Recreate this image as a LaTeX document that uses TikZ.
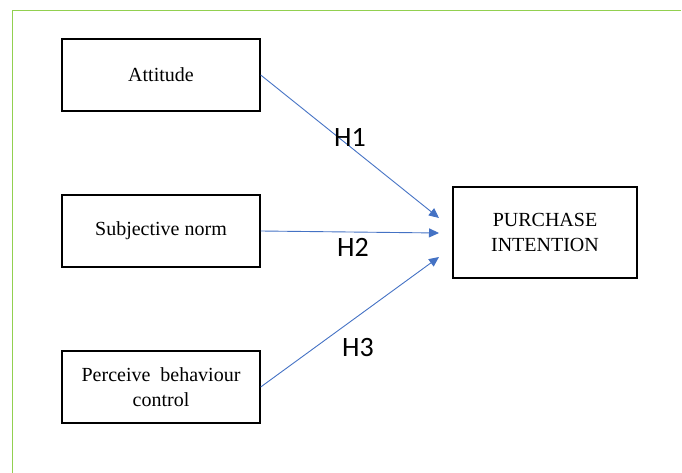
\documentclass[tikz,border=0pt]{standalone}
\usepackage{fontspec}
\setmainfont{Liberation Serif}
\newfontfamily\labelfont{Carlito}
\usetikzlibrary{arrows.meta}
\definecolor{frameGreen}{RGB}{146,208,80}
\definecolor{arrowBlue}{RGB}{68,114,196}
\tikzset{
  varbox/.style={draw=black, line width=1.4pt, rectangle, inner sep=0pt, minimum width=198pt, minimum height=72pt, align=center, font=\fontsize{20}{25}\selectfont},
  path arrow/.style={draw=arrowBlue, line width=0.9pt, -{Triangle[length=10pt,width=9pt]}},
  hlabel/.style={font=\labelfont\fontsize{28}{32}\selectfont, inner sep=0pt}
}
\begin{document}
\begin{tikzpicture}[x=1pt,y=-1pt]
\useasboundingbox (0,0) rectangle (682,473);
\coordinate (fA) at (12.5,473);
\coordinate (fB) at (12.5,10.5);
\coordinate (fC) at (681,10.5);
\draw[frameGreen, line width=1.5pt] (fA) -- (fB) -- (fC);
\node[varbox] (att) at (161,75) {Attitude};
\node[varbox] (sub) at (161,231) {Subjective norm};
\node[varbox] (pbc) at (161,387) {Perceive\ \ behaviour\\control};
\node[varbox, minimum width=184pt, minimum height=91pt] (pi) at (545,232.5) {PURCHASE\\INTENTION};
\coordinate (t1) at (439,218);
\coordinate (t2) at (439,233);
\coordinate (t3) at (439,257);
\draw[path arrow] (att.east) -- (t1);
\draw[path arrow] (sub.east) -- (t2);
\draw[path arrow] (pbc.east) -- (t3);
\node[hlabel] (h1) at (350,137) {H1};
\node[hlabel] (h2) at (353,247) {H2};
\node[hlabel] (h3) at (358,348) {H3};
\end{tikzpicture}
\end{document}
